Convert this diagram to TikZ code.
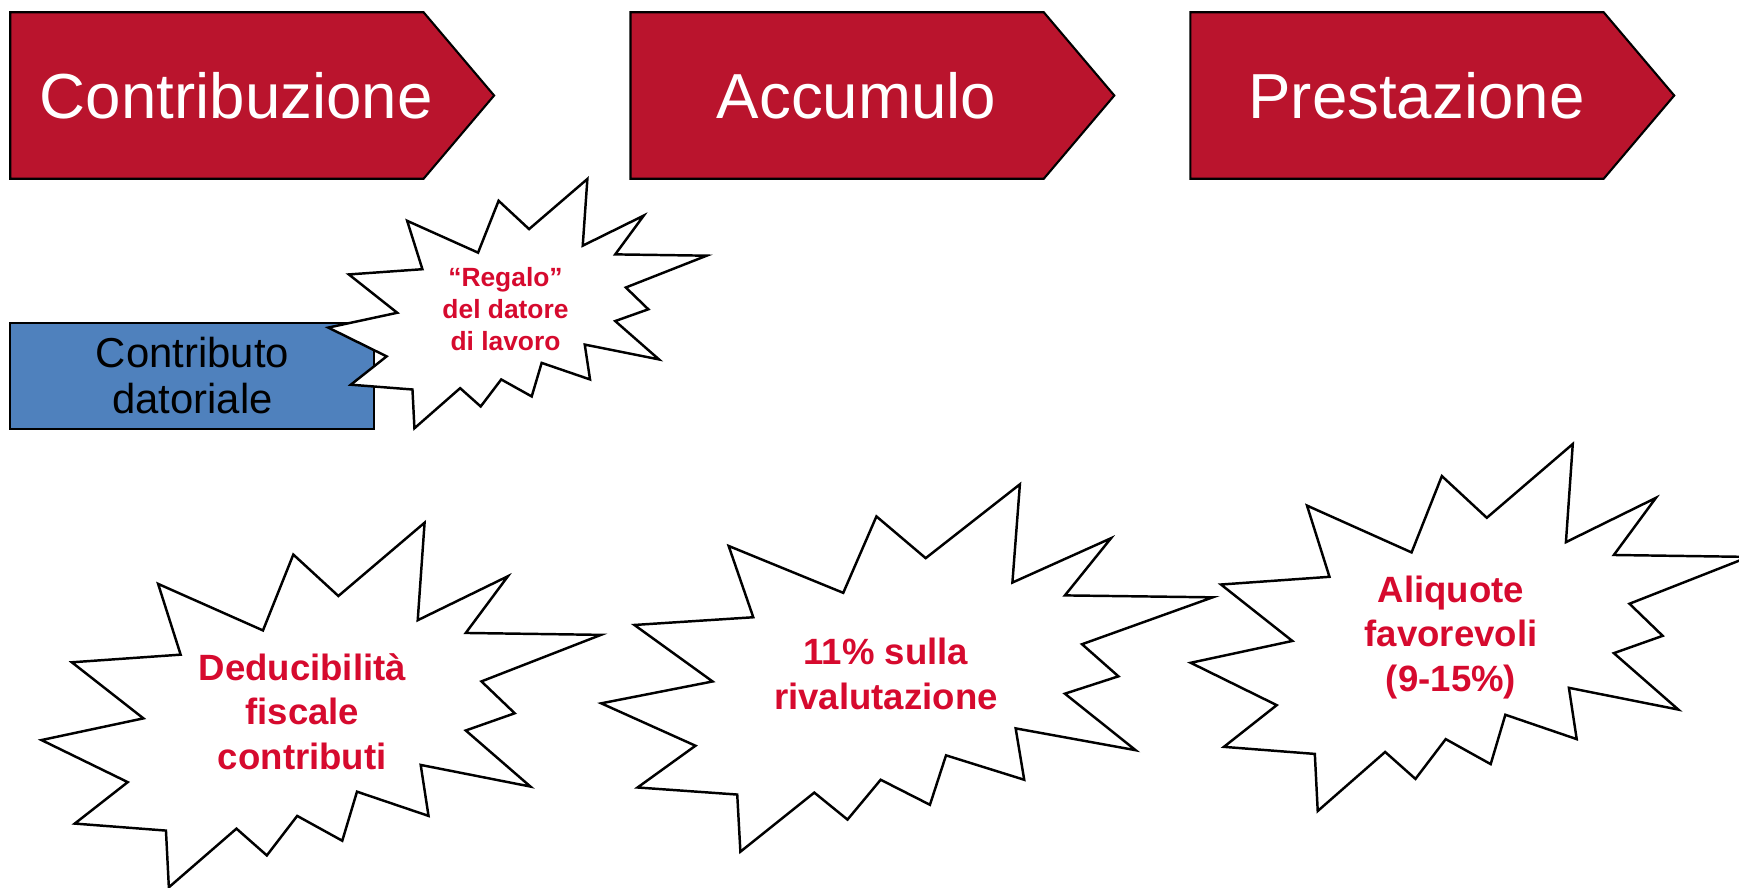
\documentclass[tikz,border=0pt]{standalone}
\usepackage{fontspec}
\setmainfont{Liberation Sans}
\definecolor{cred}{RGB}{186,20,45}
\definecolor{cblue}{RGB}{79,129,189}
\definecolor{ctext}{RGB}{214,10,46}

% explosion outline, box given by corner (#1,#2), width #3, height #4
\newcommand{\drawburst}[4]{%
  \begin{scope}[shift={(#1,#2)}, xscale=#3/2160, yscale=#4/2160]
    \draw[burst] (1146.2,434.2) -- (1479,0) -- (1452.5,577.7) -- (1800.7,317.2)
      -- (1638,653.2) -- (2160,664.5) -- (1698.5,940.2) -- (1827,1129)
      -- (1638,1231) -- (1887.7,1563.2) -- (1464,1435) -- (1494.2,1737)
      -- (1218,1593.5) -- (1161.2,1884.2) -- (987.2,1737) -- (870,1971.2)
      -- (752.7,1812.5) -- (491.7,2160) -- (480.5,1824) -- (128.5,1782.5)
      -- (333,1537) -- (0,1287.7) -- (393.5,1159.2) -- (117.2,827)
      -- (537.2,781.7) -- (450.2,362.5) -- (855,638.2) -- (972.2,188.7) -- cycle;
  \end{scope}}

\tikzset{
  phase/.style={draw=black, fill=cred, line width=0.6pt, line join=miter},
  phasetext/.style={text=white, font=\fontsize{18.1}{21}\selectfont, inner sep=0pt, anchor=base},
  burst/.style={draw=black, fill=white, line width=0.7pt, line join=miter},
  bursttext/.style={text=ctext, font=\fontsize{10.4}{12.7}\selectfont\bfseries, align=center, inner sep=0pt},
}

\begin{document}
\begin{tikzpicture}[x=0.01cm, y=-0.01cm]

\useasboundingbox (0,0) rectangle (1739,888);

% the three phases
\foreach \x/\name/\txt in {10.3/contrib/Contribuzione, 630.5/accum/Accumulo, 1190.4/prest/Prestazione} {
    \draw[phase] (\x,12.3) -- ++(413.3,0) -- ++(70.5,83.2) -- ++(-70.5,83.2) -- ++(-413.3,0) -- cycle;
    \node[phasetext] (\name) at ({\x+226},118.7) {\txt};
}

\draw[fill=cblue, line width=0.6pt] (10.3,323.3) rectangle (374,429);
\node[align=center, inner sep=0pt, font=\fontsize{11.9}{13.3}\selectfont] (datore) at (192.5,375.5) {Contributo\\datoriale};

\drawburst{328.3}{179}{378.4}{249.3}
\node[bursttext, font=\fontsize{7.5}{9}\selectfont\bfseries] (regalo) at (505.5,309) {“Regalo”\\del datore\\di lavoro};

\drawburst{41.5}{522.7}{559.5}{364.6}
\node[bursttext] (deduc) at (302.3,711.7) {Deducibilità\\fiscale\\contributi};

\drawburst{601.2}{484.3}{611.5}{367.4}
\node[bursttext] (rival) at (886,673.7) {11\% sulla\\rivalutazione};

\drawburst{1190.7}{444}{558}{367}
\node[bursttext] (aliq) at (1451,637.5) {Aliquote\\favorevoli\\(9-15\%)};

\end{tikzpicture}
\end{document}
